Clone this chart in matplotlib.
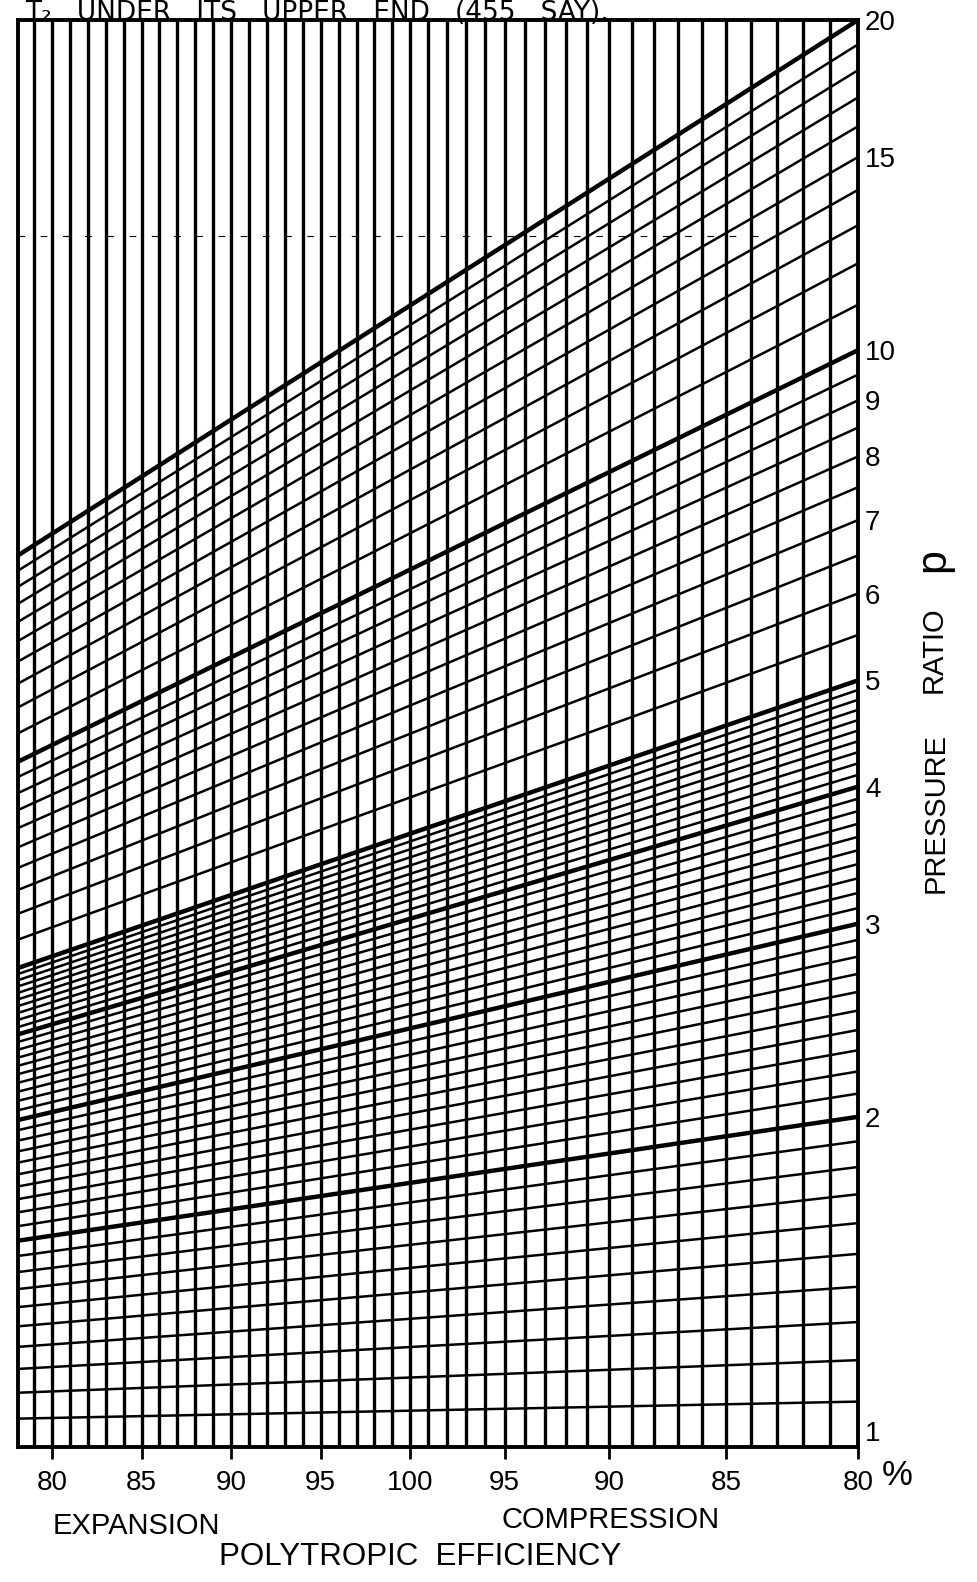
import matplotlib
matplotlib.use("Agg")
import matplotlib.pyplot as plt

plt.rcParams['font.family'] = ['Liberation Sans', 'DejaVu Sans']

# ---------------- data ----------------
# vertical grid lines (polytropic efficiency, %)
expansion_eff = [79, 80, 81, 82, 83, 84, 85, 86, 87, 88, 89, 90,
                 91, 92, 93, 94, 95, 96, 97, 98, 99, 100]
compression_eff = [99, 98, 97, 96, 95, 94, 93, 92, 91, 90,
                   89, 88, 87, 86, 85, 84, 83, 82, 81, 80]

# slanted lines: pressure ratio reached at the right edge (80 % compression)
heavy_ratios = [2, 3, 4, 5, 10, 20]
thin_ratios = [1.1, 1.2, 1.3, 1.4, 1.5, 1.6, 1.7, 1.8, 1.9,
               2.1, 2.2, 2.3, 2.4, 2.5, 2.6, 2.7, 2.8, 2.9,
               3.1, 3.2, 3.3, 3.4, 3.5, 3.6, 3.7, 3.8, 3.9,
               4.1, 4.2, 4.3, 4.4, 4.5, 4.6, 4.7, 4.8, 4.9,
               5.5, 6, 6.5, 7, 7.5, 8, 8.5, 9, 9.5,
               11, 12, 13, 14, 15, 16, 17, 18, 19]

# x tick labels
exp_ticks = [80, 85, 90, 95, 100]
comp_ticks = [95, 90, 85, 80]
exp_tick_labels = ["80", "85", "90", "95", "100"]
comp_tick_labels = ["95", "90", "85", "80"]

# y (pressure ratio) tick labels on the right
p_ticks = [1, 2, 3, 4, 5, 6, 7, 8, 9, 10, 15, 20]
p_tick_labels = ["1", "2", "3", "4", "5", "6", "7", "8", "9", "10", "15", "20"]

# dashed construction line
dash_p = 12.7
dash_end_comp_eff = 83.3

title_text = "T\u2082   UNDER   ITS   UPPER   END   (455   SAY)."

# ---------------- nomogram scale ----------------
def exp_pos(e):
    return e / 100.0

def comp_pos(e):
    return 100.0 / e

X_LEFT = 0.781
X_RIGHT = comp_pos(80)

W, H = 977, 1582
fig = plt.figure(figsize=(W / 100, H / 100), dpi=100)
ax_l, ax_r, ax_t, ax_b = 18, 858, 20, 1447
ax = fig.add_axes([ax_l / W, 1 - ax_b / H, (ax_r - ax_l) / W, (ax_b - ax_t) / H])
ax.set_yscale('log')
ax.set_xlim(X_LEFT, X_RIGHT)
ax.set_ylim(1, 20)

# vertical lines
for e in expansion_eff:
    ax.axvline(exp_pos(e), color='black', lw=2.4, zorder=2)
for e in compression_eff:
    ax.axvline(comp_pos(e), color='black', lw=2.4, zorder=2)

# slanted lines (straight on the log scale, through the nomogram pole)
def ratio_line(r, lw):
    xs = [X_LEFT, X_RIGHT]
    ys = [r ** (x / X_RIGHT) for x in xs]
    ax.plot(xs, ys, color='black', lw=lw, solid_capstyle='butt', zorder=3)

for r in thin_ratios:
    ratio_line(r, 1.8)
for r in heavy_ratios:
    ratio_line(r, 3.2)

# dashed construction line
ax.plot([X_LEFT, comp_pos(dash_end_comp_eff)], [dash_p, dash_p], color='black',
        lw=0.8, dashes=(6, 14), zorder=4)

for s in ax.spines.values():
    s.set_linewidth(2.8)

# x ticks
xt = [exp_pos(e) for e in exp_ticks] + [comp_pos(e) for e in comp_ticks]
ax.set_xticks(xt)
ax.set_xticklabels(exp_tick_labels + comp_tick_labels, fontsize=20)
ax.tick_params(axis='x', direction='out', length=8.5, width=2, pad=8)

# y ticks on the right
ax.yaxis.tick_right()
ax.set_yticks(p_ticks)
ax.set_yticklabels(p_tick_labels, fontsize=20)
ax.yaxis.set_minor_locator(matplotlib.ticker.NullLocator())
ax.tick_params(axis='y', which='both', length=0, pad=5)
ax.get_yticklabels()[0].set_verticalalignment('bottom')

def fx(x):
    return x / W

def fy(y):
    return 1 - y / H

fig.text(fx(882), fy(1492), "%", fontsize=25, ha='left', va='bottom')
fig.text(fx(136), fy(1526), "EXPANSION", fontsize=21, ha='center', va='center')
fig.text(fx(611), fy(1520), "COMPRESSION", fontsize=21, ha='center', va='center')
fig.text(fx(420), fy(1557), "POLYTROPIC  EFFICIENCY", fontsize=22.5, ha='center', va='center')

fig.text(fx(936), fy(813), "PRESSURE", fontsize=21, rotation=90, ha='center', va='center')
fig.text(fx(934), fy(650), "RATIO", fontsize=21, rotation=90, ha='center', va='center')
fig.text(fx(933), fy(560), "p", fontsize=31, rotation=90, ha='center', va='center')

fig.text(fx(25), fy(19.5), title_text, fontsize=19, ha='left', va='baseline',
         family=['DejaVu Sans'])

fig.savefig("out.png", dpi=100)
